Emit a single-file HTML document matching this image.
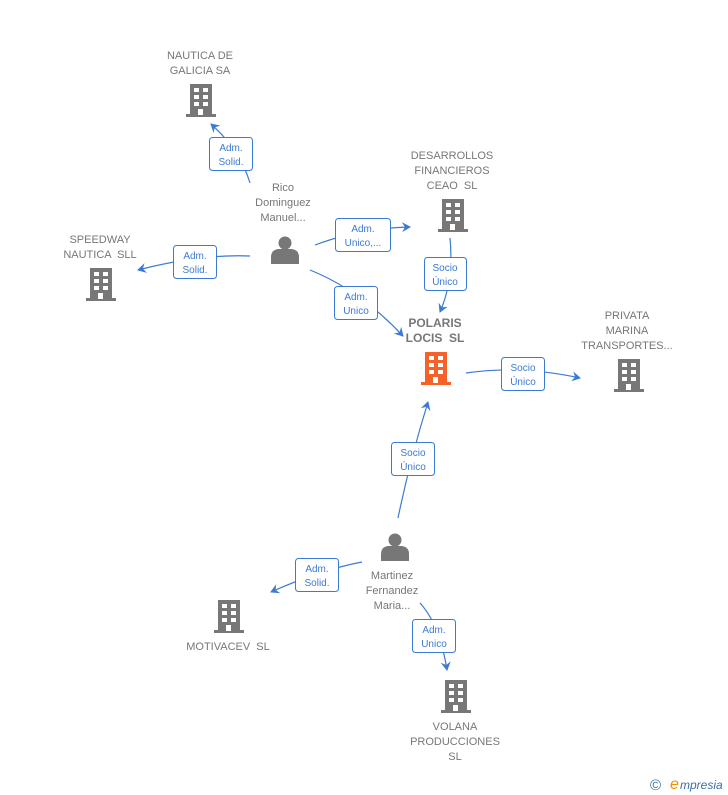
<!DOCTYPE html>
<html><head><meta charset="utf-8"><style>
html,body{margin:0;padding:0;background:#fff;}
svg{display:block;}
text{white-space:pre;}
.lbl{font-family:"Liberation Sans",sans-serif;font-size:11px;fill:#777;text-anchor:middle;}
.b{font-weight:bold;font-size:12px;}
.el{font-family:"Liberation Sans",sans-serif;font-size:10px;fill:#3a7bd5;text-anchor:middle;}
.box{fill:#fff;stroke:#3a7bd5;stroke-width:1;}
.ln{stroke:#3a7bd5;stroke-width:1.2;fill:none;}
</style></head><body>
<svg width="728" height="795" viewBox="0 0 728 795" xmlns="http://www.w3.org/2000/svg">
<defs>
<marker id="ar" markerWidth="10" markerHeight="10" refX="8" refY="5" orient="auto" markerUnits="userSpaceOnUse">
<path d="M0,0 L9,5 L0,10 L3,5 Z" fill="#3a7bd5"/>
</marker>
<g id="bld">
<rect x="-11" y="-16" width="22" height="31" />
<rect x="-15" y="14" width="30" height="3"/>
<g fill="#fff">
<rect x="-7" y="-12" width="5" height="4"/><rect x="2" y="-12" width="5" height="4"/>
<rect x="-7" y="-5" width="5" height="4"/><rect x="2" y="-5" width="5" height="4"/>
<rect x="-7" y="2" width="5" height="4"/><rect x="2" y="2" width="5" height="4"/>
<rect x="-3" y="9" width="5" height="6"/>
</g>
</g>
<g id="per">
<circle cx="0" cy="-7" r="6.5"/>
<path d="M-14,14 L-14,7 Q-14,0 -7,-1 L7,-1 Q14,0 14,7 L14,14 Z"/>
</g>
</defs>

<path class="ln" d="M250,183 Q240,150 211,124" marker-end="url(#ar)"/>
<path class="ln" d="M250,256 Q200,254 138,270" marker-end="url(#ar)"/>
<path class="ln" d="M315,245 Q360,228 410,227" marker-end="url(#ar)"/>
<path class="ln" d="M310,270 Q360,290 403,336" marker-end="url(#ar)"/>
<path class="ln" d="M450,238 Q454,280 440,312" marker-end="url(#ar)"/>
<path class="ln" d="M466,373 Q520,365 580,378" marker-end="url(#ar)"/>
<path class="ln" d="M398,518 Q410,460 428,402" marker-end="url(#ar)"/>
<path class="ln" d="M362,562 Q320,570 271,592" marker-end="url(#ar)"/>
<path class="ln" d="M420,603 Q440,625 447,670" marker-end="url(#ar)"/>

<rect class="box" x="209.5" y="137.5" width="43" height="33" rx="3"/><text class="el" x="231" y="151">Adm.</text><text class="el" x="231" y="165">Solid.</text>
<rect class="box" x="173.5" y="245.5" width="43" height="33" rx="3"/><text class="el" x="195" y="259">Adm.</text><text class="el" x="195" y="273">Solid.</text>
<rect class="box" x="335.5" y="218.5" width="55" height="33" rx="3"/><text class="el" x="363" y="232">Adm.</text><text class="el" x="363" y="246">Unico,...</text>
<rect class="box" x="334.5" y="286.5" width="43" height="33" rx="3"/><text class="el" x="356" y="300">Adm.</text><text class="el" x="356" y="314">Unico</text>
<rect class="box" x="424.5" y="257.5" width="42" height="33" rx="3"/><text class="el" x="445" y="271">Socio</text><text class="el" x="445" y="285">Único</text>
<rect class="box" x="501.5" y="357.5" width="43" height="33" rx="3"/><text class="el" x="523" y="371">Socio</text><text class="el" x="523" y="385">Único</text>
<rect class="box" x="391.5" y="442.5" width="43" height="33" rx="3"/><text class="el" x="413" y="456">Socio</text><text class="el" x="413" y="470">Único</text>
<rect class="box" x="295.5" y="558.5" width="43" height="33" rx="3"/><text class="el" x="317" y="572">Adm.</text><text class="el" x="317" y="586">Solid.</text>
<rect class="box" x="412.5" y="619.5" width="43" height="33" rx="3"/><text class="el" x="434" y="633">Adm.</text><text class="el" x="434" y="647">Unico</text>

<use href="#bld" x="201" y="100" fill="#777"/>
<text class="lbl" x="200" y="59">NAUTICA DE</text><text class="lbl" x="200" y="74">GALICIA SA</text>

<use href="#bld" x="453" y="215" fill="#777"/>
<text class="lbl" x="452" y="159">DESARROLLOS</text><text class="lbl" x="452" y="174">FINANCIEROS</text><text class="lbl" x="452" y="189">CEAO  SL</text>

<use href="#bld" x="101" y="284" fill="#777"/>
<text class="lbl" x="100" y="243">SPEEDWAY</text><text class="lbl" x="100" y="258">NAUTICA  SLL</text>

<use href="#per" x="285" y="250" fill="#777"/>
<text class="lbl" x="283" y="191">Rico</text><text class="lbl" x="283" y="206">Dominguez</text><text class="lbl" x="283" y="221">Manuel...</text>

<use href="#bld" x="436" y="368" fill="#f4622a"/>
<text class="lbl b" x="435" y="327">POLARIS</text><text class="lbl b" x="435" y="342">LOCIS  SL</text>

<use href="#bld" x="629" y="375" fill="#777"/>
<text class="lbl" x="627" y="319">PRIVATA</text><text class="lbl" x="627" y="334">MARINA</text><text class="lbl" x="627" y="349">TRANSPORTES...</text>

<use href="#per" x="395" y="547" fill="#777"/>
<text class="lbl" x="392" y="579">Martinez</text><text class="lbl" x="392" y="594">Fernandez</text><text class="lbl" x="392" y="609">Maria...</text>

<use href="#bld" x="229" y="616" fill="#777"/>
<text class="lbl" x="228" y="650">MOTIVACEV  SL</text>

<use href="#bld" x="456" y="696" fill="#777"/>
<text class="lbl" x="455" y="730">VOLANA</text><text class="lbl" x="455" y="745">PRODUCCIONES</text><text class="lbl" x="455" y="760">SL</text>

<text x="650" y="790" font-family="Liberation Sans,sans-serif" font-size="15" fill="#3a6ea5">©</text>
<text x="670" y="789" font-family="Liberation Sans,sans-serif" font-size="16" font-style="italic" fill="#f39200">e</text>
<text x="680" y="789" font-family="Liberation Sans,sans-serif" font-size="12" font-style="italic" fill="#3a6ea5">mpresia</text>
</svg>
</body></html>
